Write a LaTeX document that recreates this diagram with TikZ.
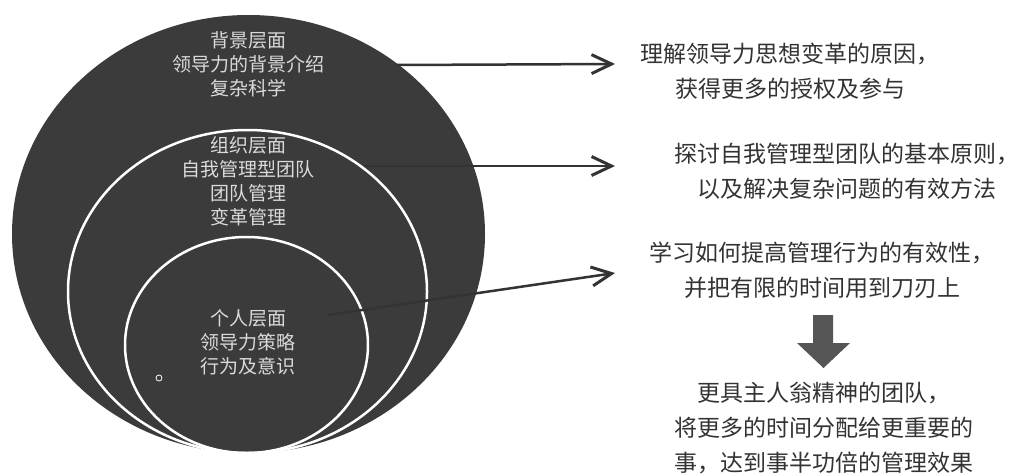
\documentclass[tikz,border=0pt]{standalone}
\usepackage{fontspec}
\newfontfamily\cjk{Noto Sans CJK SC}
\usetikzlibrary{arrows.meta}
\definecolor{disc}{HTML}{3B3B3B}
\definecolor{ink}{HTML}{333333}
\definecolor{pale}{HTML}{DADADA}
\definecolor{blockc}{HTML}{555555}
\begin{document}
\begin{tikzpicture}[x=1pt,y=-1pt,
  ring/.style={draw=white,line width=2.5pt},
  intext/.style={text=pale,align=center,font=\cjk\fontsize{19}{24}\selectfont,inner sep=0pt},
  outtext/.style={text=ink,align=center,font=\cjk\fontsize{23}{35}\selectfont,inner sep=0pt},
  conn/.style={draw=ink,line width=2.5pt,-{Straight Barb[length=20pt,width=19pt,line width=3pt]}}
]
\useasboundingbox (0,0) rectangle (1032,474);
\fill[white] (0,0) rectangle (1032,474);
% discs
\fill[disc] (248.5,234) ellipse [x radius=236.5, y radius=219];
\draw[ring] (247.5,291.5) ellipse [x radius=179.5, y radius=161.5];
\draw[ring] (246.5,345) ellipse [x radius=121.5, y radius=108];
\draw[draw=white,line width=0.8pt] (159,378) circle [radius=3];
% circle texts
\node[intext] (bg) at (248,64) {背景层面\\领导力的背景介绍\\复杂科学};
\node[intext] (org) at (248,181.5) {组织层面\\自我管理型团队\\团队管理\\变革管理};
\node[intext] (ind) at (248,342) {个人层面\\领导力策略\\行为及意识};
% right texts
\node[outtext] (t1) at (790,71) {理解领导力思想变革的原因，\\获得更多的授权及参与};
\node[outtext] (t2) at (847,171) {探讨自我管理型团队的基本原则，\\以及解决复杂问题的有效方法};
\node[outtext] (t3) at (822,270) {学习如何提高管理行为的有效性，\\并把有限的时间用到刀刃上};
\node[outtext] (t4) at (824,428) {更具主人翁精神的团队，\\将更多的时间分配给更重要的\\事，达到事半功倍的管理效果};
% connectors
\coordinate (s1) at (397,65);
\coordinate (e1) at (615,64);
\coordinate (s2) at (365,166);
\coordinate (e2) at (615,166);
\coordinate (s3) at (328,315);
\coordinate (e3) at (615,273);
\draw[conn] (s1) -- (e1);
\draw[conn] (s2) -- (e2);
\draw[conn] (s3) -- (e3);
% block arrow
\fill[blockc] (813,315) -- (833,315) -- (833,343) -- (850,343) -- (823.5,368) -- (797,343) -- (813,343) -- cycle;
\end{tikzpicture}
\end{document}
